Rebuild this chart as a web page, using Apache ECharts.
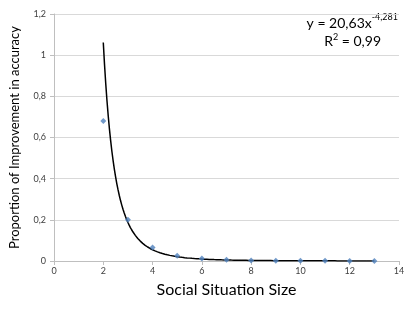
<!DOCTYPE html>
<html><head><meta charset="utf-8">
<script src="https://cdn.jsdelivr.net/npm/echarts@6/dist/echarts.min.js"></script>
<style>html,body{margin:0;padding:0;background:#fff}#c{width:415px;height:312px}</style>
</head><body><div id="c"></div>
<script>
const sizes = [2, 3, 4, 5, 6, 7, 8, 9, 10, 11, 12, 13];
const improvement = [0.68, 0.20, 0.065, 0.025, 0.012, 0.006, 0.003, 0.0015, 0.001, 0.0008, 0.0005, 0.0004];
const trendCoef = [20.63];
const trendExp = [-4.281];
const trendRange = [2, 13];
const xTicks = [0, 2, 4, 6, 8, 10, 12, 14];
const yTicks = [0, 0.2, 0.4, 0.6, 0.8, 1, 1.2];

const trend = [];
for (let i = 0; i <= 220; i++) {
  const x = trendRange[0] + (trendRange[1] - trendRange[0]) * i / 220;
  trend.push([x, trendCoef[0] * Math.pow(x, trendExp[0])]);
}
const fmt = v => String(Math.round(v * 10) / 10).replace('.', ',');
const FONT = 'Lato';
const chart = echarts.init(document.getElementById('c'));
chart.setOption({
  animation: false,
  textStyle: { fontFamily: FONT },
  grid: { left: 50, right: 16, top: 14, bottom: 51, containLabel: false },
  xAxis: {
    type: 'value', min: xTicks[0], max: xTicks[xTicks.length - 1], interval: 2,
    name: 'Social Situation Size', nameLocation: 'middle', nameGap: 21,
    nameTextStyle: { fontSize: 16, color: '#000', fontFamily: FONT },
    axisLine: { show: true, lineStyle: { color: '#bfbfbf' } },
    axisTick: { show: true, length: 4, lineStyle: { color: '#bfbfbf' } },
    axisLabel: { fontSize: 9, color: '#404040', margin: 6, formatter: fmt },
    splitLine: { show: false }
  },
  yAxis: {
    type: 'value', min: yTicks[0], max: yTicks[yTicks.length - 1], interval: 0.2,
    name: 'Proportion of Improvement in accuracy', nameLocation: 'middle', nameGap: 33,
    nameTextStyle: { fontSize: 13, color: '#000', fontFamily: FONT },
    axisLine: { show: true, lineStyle: { color: '#bfbfbf' } },
    axisTick: { show: true, length: 4, lineStyle: { color: '#bfbfbf' } },
    axisLabel: { fontSize: 9, color: '#404040', margin: 8, formatter: fmt },
    splitLine: { show: true, lineStyle: { color: '#d9d9d9', width: 1 } }
  },
  series: [
    {
      type: 'line', data: trend, showSymbol: false, symbol: 'none',
      lineStyle: { color: '#000', width: 1.5 }, z: 2
    },
    {
      type: 'scatter', data: sizes.map((s, i) => [s, improvement[i]]),
      symbol: 'diamond', symbolSize: 6,
      itemStyle: { color: '#4f81bd' }, z: 3
    }
  ],
  graphic: [
    {
      type: 'text', right: 17, top: 13,
      style: {
        text: '{n|y = 20,63x}{s|-4,281}', fill: '#000',
        rich: {
          n: { fontSize: 14, fontFamily: FONT, fill: '#000', verticalAlign: 'bottom' },
          s: { fontSize: 9, fontFamily: FONT, fill: '#000', verticalAlign: 'top', padding: [0, 0, 8, 0] }
        }
      }
    },
    {
      type: 'text', right: 34, top: 33,
      style: {
        text: '{n|R}{s|2}{n| = 0,99}', fill: '#000',
        rich: {
          n: { fontSize: 14, fontFamily: FONT, fill: '#000' },
          s: { fontSize: 9, fontFamily: FONT, fill: '#000', padding: [0, 0, 8, 0] }
        }
      }
    }
  ]
});
</script></body></html>
